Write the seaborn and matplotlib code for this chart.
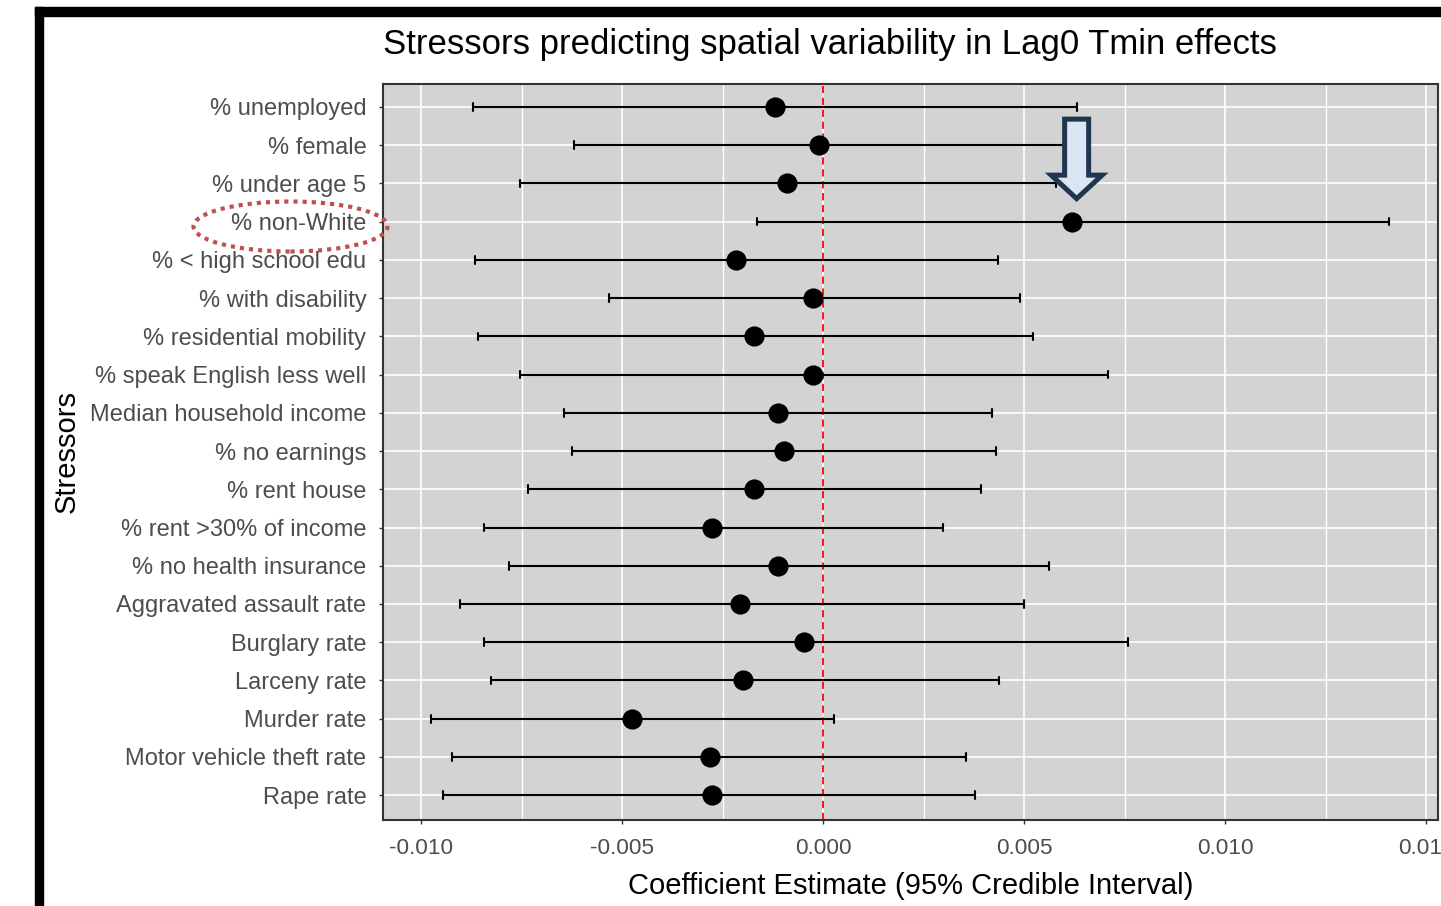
import numpy as np
import pandas as pd
import matplotlib
matplotlib.use("Agg")
import matplotlib.pyplot as plt
import matplotlib.transforms as mtransforms
from matplotlib.patches import Ellipse, Polygon, Rectangle
from matplotlib.ticker import FixedLocator, MultipleLocator
import seaborn as sns

# Posterior coefficient estimates with 95% credible intervals
stressors = [
    "% unemployed", "% female", "% under age 5", "% non-White",
    "% < high school edu", "% with disability", "% residential mobility",
    "% speak English less well", "Median household income", "% no earnings",
    "% rent house", "% rent >30% of income", "% no health insurance",
    "Aggravated assault rate", "Burglary rate", "Larceny rate",
    "Murder rate", "Motor vehicle theft rate", "Rape rate",
]
estimate = [-0.00121, -0.00011, -0.00090, 0.00619, -0.00217, -0.00025, -0.00172,
            -0.00026, -0.00112, -0.00098, -0.00172, -0.00276, -0.00112, -0.00207,
            -0.00048, -0.00199, -0.00477, -0.00282, -0.00276]
lower = [-0.00872, -0.00621, -0.00754, -0.00164, -0.00867, -0.00534, -0.00858,
         -0.00754, -0.00644, -0.00625, -0.00735, -0.00844, -0.00781, -0.00904,
         -0.00844, -0.00826, -0.00977, -0.00923, -0.00945]
upper = [0.00630, 0.00609, 0.00580, 0.01406, 0.00434, 0.00489, 0.00521,
         0.00707, 0.00420, 0.00430, 0.00393, 0.00297, 0.00562, 0.00498,
         0.00759, 0.00438, 0.00027, 0.00355, 0.00377]
x_ticks = [-0.010, -0.005, 0.000, 0.005, 0.010, 0.015]
x_tick_labels = ["-0.010", "-0.005", "0.000", "0.005", "0.010", "0.015"]
highlighted = "% non-White"

# Long table: three values per stressor, so the median is the estimate
# and the full range (0-100 percentile) is the credible interval.
long = pd.DataFrame({
    "stressor": np.repeat(stressors, 3),
    "value": np.column_stack([lower, estimate, upper]).ravel(),
})

sns.set_theme(style="whitegrid")
plt.rcParams["font.family"] = ["Liberation Sans", "DejaVu Sans"]

W, H = 1441, 906
fig = plt.figure(figsize=(W / 100, H / 100), dpi=100)
fig.patch.set_facecolor("white")
ax = fig.add_axes([383 / W, 1 - 820 / H, (1438 - 383) / W, (820 - 84) / H])
ax.set_facecolor("#D3D3D3")

sns.pointplot(
    data=long, x="value", y="stressor", order=stressors,
    estimator="median", errorbar=("pi", 100),
    color="black", markers="o", linestyle="none", markersize=12.5,
    capsize=0.2, err_kws={"linewidth": 1.5}, ax=ax,
)

ax.axvline(0, color="#FF0000", linestyle=(0, (4, 2.6)), linewidth=1.3, zorder=1.5)

n = len(stressors)
ax.set_xlim(-0.010953, 0.015291)
ax.set_ylim(n - 1 + 0.65, -0.6)

ax.xaxis.set_major_locator(FixedLocator(x_ticks))
ax.set_xticklabels(x_tick_labels)
ax.xaxis.set_minor_locator(MultipleLocator(0.0025))
ax.set_axisbelow(True)
ax.grid(which="major", color="white", linewidth=1.2)
ax.grid(which="minor", axis="x", color="white", linewidth=1.0)
ax.grid(which="minor", axis="y", visible=False)

for s in ax.spines.values():
    s.set_visible(True)
    s.set_color("#333333")
    s.set_linewidth(1.5)

ax.tick_params(axis="both", which="major", length=3, width=1, color="#333333",
               direction="out", left=True, bottom=True, pad=9)
ax.tick_params(axis="both", which="minor", length=0)
ax.tick_params(axis="y", labelsize=17, labelcolor="#4D4D4D")
ax.tick_params(axis="x", labelsize=16.2, labelcolor="#4D4D4D", pad=10)

ax.set_title("Stressors predicting spatial variability in Lag0 Tmin effects",
             loc="left", fontsize=25, color="black", pad=21.5)
ax.set_xlabel("Coefficient Estimate (95% Credible Interval)", fontsize=21,
              color="black", labelpad=9)
ax.set_ylabel("Stressors", fontsize=21, color="black", labelpad=7)

# Block arrow pointing down at the highlighted estimate (offsets in pixels)
idx = stressors.index(highlighted)
arrow_trans = mtransforms.Affine2D() + mtransforms.ScaledTranslation(
    estimate[idx], idx, ax.transData)
arrow_verts = [(-7.5, 102.5), (16.5, 102.5), (16.5, 46.5), (30, 46.5),
               (4.5, 23), (-21, 46.5), (-7.5, 46.5)]
ax.add_patch(Polygon(arrow_verts, closed=True, facecolor="#DCE6F2",
                     edgecolor="#1F3550", linewidth=3.6, joinstyle="miter",
                     transform=arrow_trans, clip_on=False, zorder=6))

# Dotted ring around the highlighted stressor label
fig.add_artist(Ellipse((290.5 / W, 1 - 226.5 / H), 194 / W, 50 / H,
                       transform=fig.transFigure, fill=False,
                       edgecolor="#C0504D", linewidth=3,
                       linestyle=(0, (1, 1.2)), zorder=10))

# Heavy frame along the left and top
fig.add_artist(Rectangle((35 / W, 0), 8 / W, (H - 7) / H,
                         transform=fig.transFigure, color="black", zorder=10))
fig.add_artist(Rectangle((35 / W, 1 - 16 / H), (W - 35) / W, 9 / H,
                         transform=fig.transFigure, color="black", zorder=10))

fig.savefig("out.png", dpi=100)
